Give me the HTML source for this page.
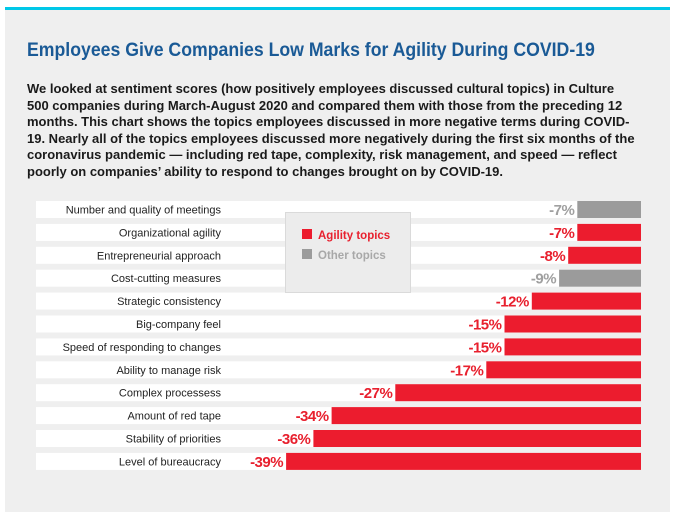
<!DOCTYPE html>
<html><head><meta charset="utf-8">
<style>
body{margin:0;width:676px;height:520px;background:#fff;font-family:"Liberation Sans",sans-serif;position:relative;overflow:hidden}
#topline{position:absolute;left:5px;top:7px;width:665px;height:3px;background:#00c8e8}
#panel{position:absolute;left:5px;top:10px;width:665px;height:502px;background:#efefef}
#title{position:absolute;left:27px;top:40px;font-size:19px;font-weight:bold;color:#1a5a96;white-space:nowrap;transform-origin:0 0;transform:scaleX(0.93)}
#desc{position:absolute;left:27px;top:81px;font-size:12.5px;font-weight:bold;color:#1a1a1a;line-height:16.6px;white-space:nowrap;transform-origin:0 0;transform:scaleX(1.04)}
svg{position:absolute;left:0;top:0}
</style></head><body>
<div id="topline"></div>
<div id="panel"></div>
<div id="title">Employees Give Companies Low Marks for Agility During COVID-19</div>
<div id="desc">We looked at sentiment scores (how positively employees discussed cultural topics) in Culture<br>500 companies during March-August 2020 and compared them with those from the preceding 12<br>months. This chart shows the topics employees discussed in more negative terms during COVID-<br>19. Nearly all of the topics employees discussed more negatively during the first six months of the<br>coronavirus pandemic — including red tape, complexity, risk management, and speed — reflect<br>poorly on companies’ ability to respond to changes brought on by COVID-19.</div>
<svg id="chart" width="676" height="520"></svg>
<script>
const categories=["Number and quality of meetings","Organizational agility","Entrepreneurial approach","Cost-cutting measures","Strategic consistency","Big-company feel","Speed of responding to changes","Ability to manage risk","Complex processess","Amount of red tape","Stability of priorities","Level of bureaucracy"];
const values=[-7,-7,-8,-9,-12,-15,-15,-17,-27,-34,-36,-39];
const groups=["other","agility","agility","other","agility","agility","agility","agility","agility","agility","agility","agility"];
const legendLabels=["Agility topics","Other topics"];

const svg=document.getElementById('chart');
const NS='http://www.w3.org/2000/svg';
const zeroX=641, pxPer=9.1, rowTop=201, pitch=22.9, rowH=17;
const xScale=v=>zeroX+v*pxPer;
const yScale=i=>rowTop+i*pitch;
const colors={agility:'#ec1c2e',other:'#9b9b9b'};
const txtColors={agility:'#e8202e',other:'#a0a0a0'};
function mk(tag,attrs){const e=document.createElementNS(NS,tag);for(const k in attrs)e.setAttribute(k,attrs[k]);svg.appendChild(e);return e;}
categories.forEach((c,i)=>{
  const y=yScale(i);
  const row=mk('rect',{x:36,y:y,width:zeroX-36,height:rowH,fill:'#fff'});
  
  
  const lab=mk('text',{x:221,y:y+12.5,'text-anchor':'end','font-size':'11',fill:'#222','font-family':'Liberation Sans, sans-serif'});
  lab.textContent=c;
  
  
  const x0=xScale(values[i]);
  const bar=mk('rect',{x:x0,y:y,width:zeroX-x0,height:rowH,fill:colors[groups[i]]});
  
  
  const vl=mk('text',{x:x0-3,y:y+14,'text-anchor':'end','font-size':'15','font-weight':'bold',fill:txtColors[groups[i]],'font-family':'Liberation Sans, sans-serif','letter-spacing':'-0.5'});
  vl.textContent=values[i]+'%';
  
  
});
const lg=mk('rect',{x:285.5,y:212.5,width:125,height:80,fill:'#ececec',stroke:'#dadada'});


legendLabels.forEach((l,i)=>{
  const key=i===0?'agility':'other';
  const sw=mk('rect',{x:302,y:229+i*20,width:10,height:10,fill:colors[key]});
  
  
  const t=mk('text',{x:318,y:239+i*20,'font-size':'11.5','font-weight':'bold',fill:i===0?'#e8202e':'#a8a8a8','font-family':'Liberation Sans, sans-serif'});
  t.textContent=l;
  
  
});
</script>
</body></html>
